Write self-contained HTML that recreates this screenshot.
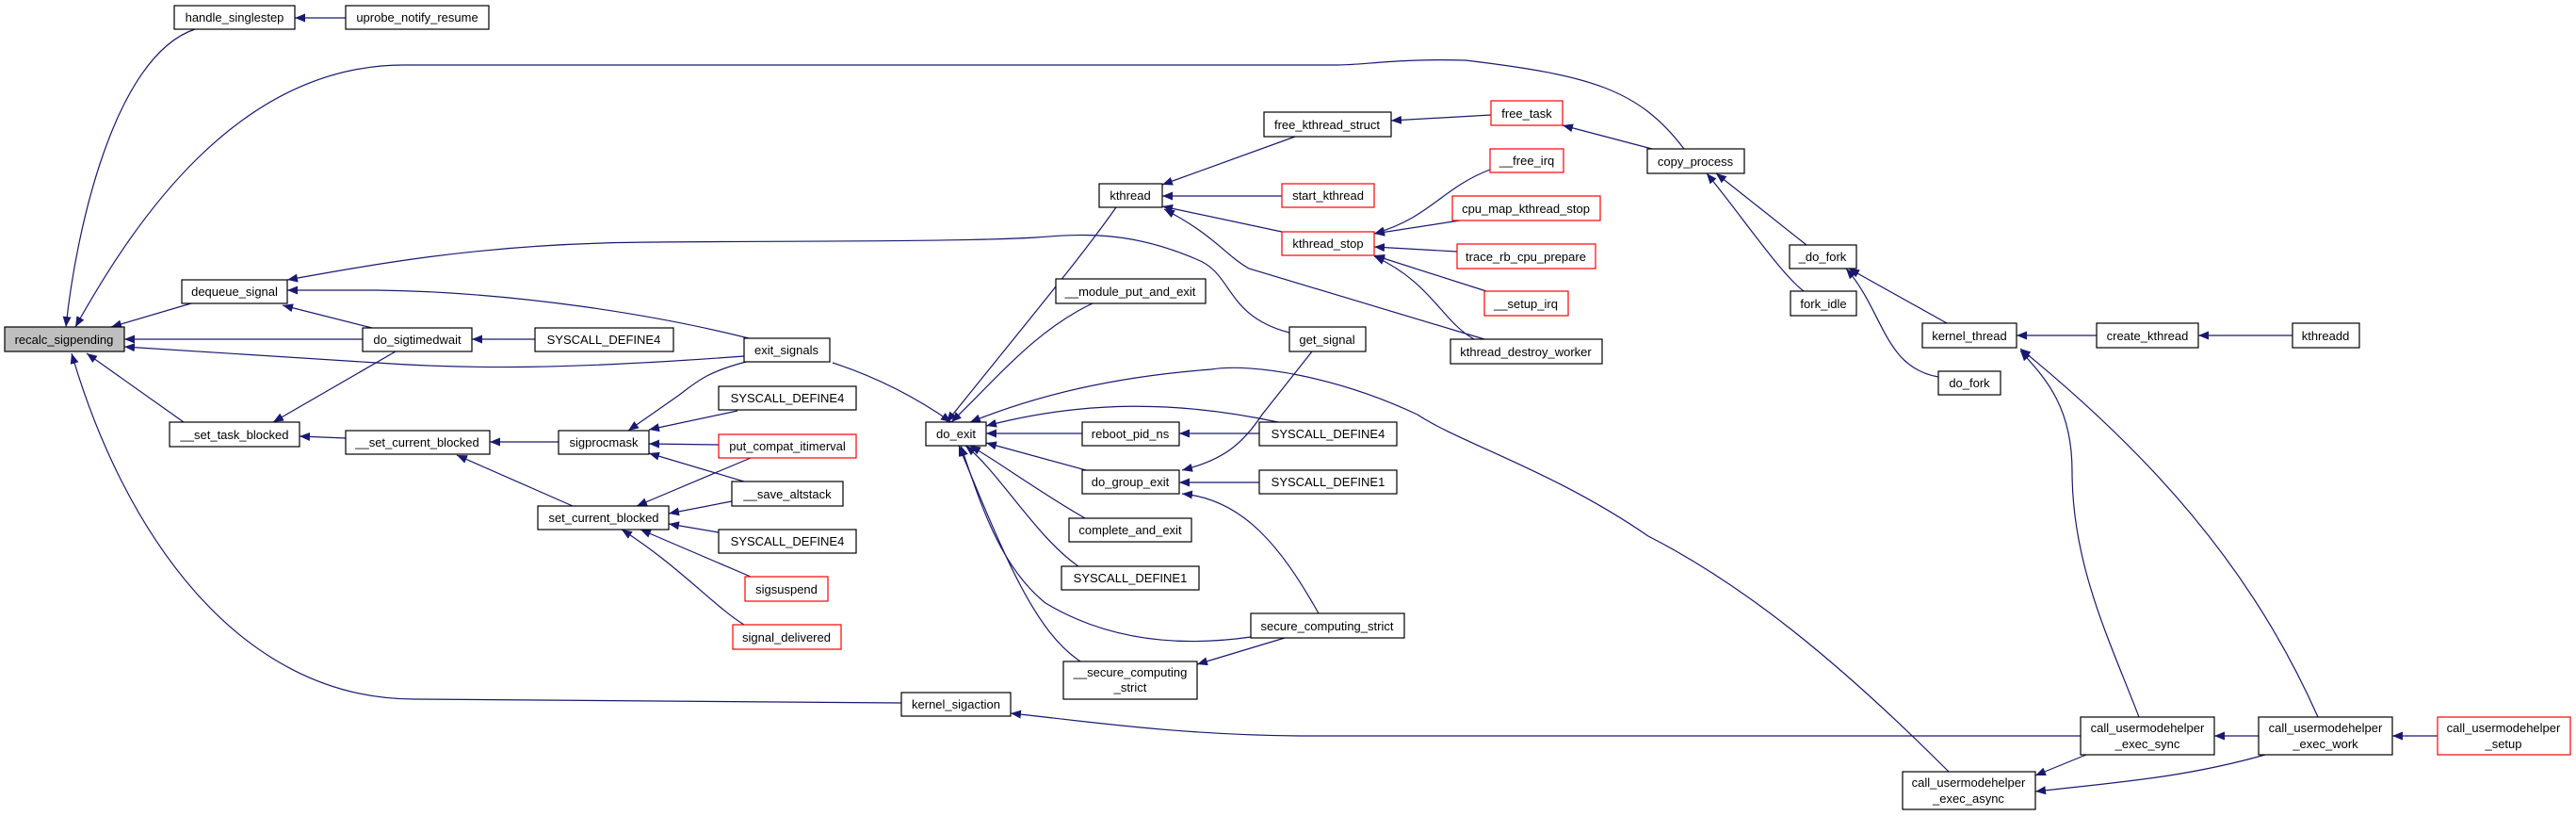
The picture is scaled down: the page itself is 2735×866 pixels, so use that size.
<!DOCTYPE html>
<html><head><meta charset="utf-8"><style>
html,body{margin:0;padding:0;background:#fff;}
svg{display:block;}
text{font-family:"Liberation Sans",Arial,sans-serif;font-size:13px;text-anchor:middle;fill:#000;}
.e{fill:none;stroke:#191970;stroke-width:1.2;}
.n{fill:#fff;stroke:#000;stroke-width:1.2;}
.r{fill:#fff;stroke:#ff0000;stroke-width:1.2;}
</style></head><body>
<svg width="2735" height="866" viewBox="0 0 2735 866" xmlns="http://www.w3.org/2000/svg">
<defs><marker id="a" markerUnits="userSpaceOnUse" markerWidth="12" markerHeight="10" refX="11" refY="4.5" orient="auto"><polygon points="0,0 11,4.5 0,9" fill="#191970"/></marker></defs>
<g class="e" marker-end="url(#a)">
<path d="M207,31 C120,60 80,250 70,347"/>
<path d="M1788,158 C1740,95 1690,80 1556,64 C1480,62 1450,69 1420,69 L429,69 C250,69 140,240 80,347"/>
<path d="M367,19 L313,19"/>
<path d="M203,322 L118,347"/>
<path d="M385,360 L132,360"/>
<path d="M790,378 C600,392 500,392 400,385 L132,368"/>
<path d="M195,448 L92,375"/>
<path d="M957,746 L440,742 C250,742 130,560 76,375"/>
<path d="M1369,353 C1300,335 1310,290 1270,275 C1200,245 1150,248 1100,252 C1000,258 700,255 640,258 C500,262 400,280 305,297"/>
<path d="M795,359 C700,335 550,310 400,308 L305,308"/>
<path d="M395,348 L300,324"/>
<path d="M568,360 L501,360"/>
<path d="M420,373 L290,448"/>
<path d="M367,465 L318,463"/>
<path d="M593,469 L520,469"/>
<path d="M608,537 L485,483"/>
<path d="M792,384 C750,395 740,405 720,420 L667,457"/>
<path d="M783,436 L689,456"/>
<path d="M763,472 L689,471"/>
<path d="M790,511 L689,481"/>
<path d="M797,486 L676,537"/>
<path d="M777,532 L710,545"/>
<path d="M763,565 L710,556"/>
<path d="M797,612 L680,562"/>
<path d="M790,663 C760,645 720,600 660,562"/>
<path d="M884,385 C930,400 970,420 1010,448"/>
<path d="M1185,220 C1150,270 1100,330 1005,448"/>
<path d="M1160,322 C1100,350 1060,400 1010,448"/>
<path d="M2069,819 C1950,700 1850,620 1750,569 C1650,500 1550,470 1505,440 C1420,400 1330,385 1286,392 C1180,400 1100,420 1030,448"/>
<path d="M1357,448 C1250,425 1150,425 1047,452"/>
<path d="M1149,460 L1047,460"/>
<path d="M1337,460 L1252,460"/>
<path d="M1153,499 L1047,470"/>
<path d="M1393,373 L1340,440 C1320,470 1300,488 1255,499"/>
<path d="M1337,512 L1252,512"/>
<path d="M1400,651 C1360,580 1320,530 1255,524"/>
<path d="M1152,550 C1100,520 1060,490 1030,473"/>
<path d="M1145,601 C1100,570 1060,500 1025,473"/>
<path d="M1328,676 C1230,690 1160,670 1110,640 C1060,600 1040,530 1020,473"/>
<path d="M1147,702 C1100,670 1070,600 1018,473"/>
<path d="M1364,677 L1271,705"/>
<path d="M1375,145 L1234,196"/>
<path d="M1361,208 L1234,208"/>
<path d="M1361,246 L1234,219"/>
<path d="M1576,360 L1326,285 C1300,270 1290,250 1236,222"/>
<path d="M1583,122 L1477,128"/>
<path d="M1754,158 L1659,133"/>
<path d="M1582,180 C1530,200 1520,230 1459,248"/>
<path d="M1550,234 L1459,248"/>
<path d="M1547,267 L1459,262"/>
<path d="M1578,309 L1459,271"/>
<path d="M1565,360 C1530,340 1520,300 1459,272"/>
<path d="M1918,260 L1822,184"/>
<path d="M1915,309 C1890,290 1850,230 1812,184"/>
<path d="M2067,343 L1963,285"/>
<path d="M2058,400 C2000,390 2000,330 1960,285"/>
<path d="M2226,356 L2141,356"/>
<path d="M2434,356 L2334,356"/>
<path d="M2271,761 C2240,680 2200,600 2200,500 C2200,430 2170,400 2145,372"/>
<path d="M2461,761 C2390,600 2280,480 2145,370"/>
<path d="M2399,781 L2351,781"/>
<path d="M2588,781 L2540,781"/>
<path d="M2215,801 L2161,823"/>
<path d="M2405,801 C2320,825 2250,830 2161,840"/>
<path d="M2209,781 L1380,781 C1250,780 1150,765 1073,757"/>
</g>
<g>
<rect x="5" y="347" width="127" height="26" fill="#bfbfbf" stroke="#000" stroke-width="1.2"/><text x="68" y="365">recalc_sigpending</text>
<rect class="n" x="185" y="6" width="128" height="25"/><text x="249" y="23">handle_singlestep</text>
<rect class="n" x="367" y="6" width="152" height="25"/><text x="443" y="23">uprobe_notify_resume</text>
<rect class="n" x="193" y="297" width="112" height="25"/><text x="249" y="314">dequeue_signal</text>
<rect class="n" x="385" y="348" width="116" height="25"/><text x="443" y="365">do_sigtimedwait</text>
<rect class="n" x="568" y="348" width="147" height="25"/><text x="641" y="365">SYSCALL_DEFINE4</text>
<rect class="n" x="790" y="359" width="91" height="25"/><text x="835" y="376">exit_signals</text>
<rect class="n" x="180" y="448" width="138" height="26"/><text x="249" y="466">__set_task_blocked</text>
<rect class="n" x="367" y="457" width="153" height="25"/><text x="443" y="474">__set_current_blocked</text>
<rect class="n" x="593" y="457" width="96" height="25"/><text x="641" y="474">sigprocmask</text>
<rect class="n" x="763" y="410" width="146" height="25"/><text x="836" y="427">SYSCALL_DEFINE4</text>
<rect class="r" x="763" y="461" width="146" height="25"/><text x="836" y="478">put_compat_itimerval</text>
<rect class="n" x="777" y="511" width="118" height="26"/><text x="836" y="529">__save_altstack</text>
<rect class="n" x="571" y="537" width="139" height="25"/><text x="641" y="554">set_current_blocked</text>
<rect class="n" x="763" y="562" width="146" height="25"/><text x="836" y="579">SYSCALL_DEFINE4</text>
<rect class="r" x="791" y="612" width="88" height="26"/><text x="835" y="630">sigsuspend</text>
<rect class="r" x="778" y="663" width="115" height="26"/><text x="835" y="681">signal_delivered</text>
<rect class="n" x="957" y="735" width="116" height="25"/><text x="1015" y="752">kernel_sigaction</text>
<rect class="n" x="983" y="448" width="64" height="25"/><text x="1015" y="465">do_exit</text>
<rect class="n" x="1167" y="195" width="67" height="25"/><text x="1200" y="212">kthread</text>
<rect class="n" x="1121" y="296" width="159" height="26"/><text x="1200" y="314">__module_put_and_exit</text>
<rect class="n" x="1149" y="448" width="103" height="25"/><text x="1200" y="465">reboot_pid_ns</text>
<rect class="n" x="1149" y="499" width="103" height="25"/><text x="1200" y="516">do_group_exit</text>
<rect class="n" x="1135" y="550" width="130" height="25"/><text x="1200" y="567">complete_and_exit</text>
<rect class="n" x="1127" y="601" width="146" height="25"/><text x="1200" y="618">SYSCALL_DEFINE1</text>
<rect class="n" x="1129" y="702" width="142" height="40"/><text x="1200" y="718">__secure_computing</text><text x="1200" y="734">_strict</text>
<rect class="n" x="1342" y="119" width="135" height="26"/><text x="1409" y="137">free_kthread_struct</text>
<rect class="r" x="1361" y="195" width="98" height="25"/><text x="1410" y="212">start_kthread</text>
<rect class="r" x="1361" y="246" width="98" height="25"/><text x="1410" y="263">kthread_stop</text>
<rect class="n" x="1369" y="347" width="81" height="26"/><text x="1409" y="365">get_signal</text>
<rect class="n" x="1337" y="448" width="146" height="25"/><text x="1410" y="465">SYSCALL_DEFINE4</text>
<rect class="n" x="1337" y="499" width="146" height="25"/><text x="1410" y="516">SYSCALL_DEFINE1</text>
<rect class="n" x="1328" y="651" width="163" height="26"/><text x="1409" y="669">secure_computing_strict</text>
<rect class="r" x="1583" y="107" width="76" height="26"/><text x="1621" y="125">free_task</text>
<rect class="r" x="1582" y="158" width="78" height="25"/><text x="1621" y="175">__free_irq</text>
<rect class="r" x="1542" y="208" width="157" height="26"/><text x="1620" y="226">cpu_map_kthread_stop</text>
<rect class="r" x="1547" y="259" width="147" height="26"/><text x="1620" y="277">trace_rb_cpu_prepare</text>
<rect class="r" x="1576" y="309" width="89" height="26"/><text x="1620" y="327">__setup_irq</text>
<rect class="n" x="1540" y="360" width="161" height="26"/><text x="1620" y="378">kthread_destroy_worker</text>
<rect class="n" x="1749" y="158" width="103" height="26"/><text x="1800" y="176">copy_process</text>
<rect class="n" x="1900" y="260" width="71" height="25"/><text x="1935" y="277">_do_fork</text>
<rect class="n" x="1901" y="309" width="70" height="26"/><text x="1936" y="327">fork_idle</text>
<rect class="n" x="2041" y="343" width="100" height="26"/><text x="2091" y="361">kernel_thread</text>
<rect class="n" x="2058" y="394" width="66" height="25"/><text x="2091" y="411">do_fork</text>
<rect class="n" x="2226" y="343" width="108" height="26"/><text x="2280" y="361">create_kthread</text>
<rect class="n" x="2434" y="343" width="71" height="26"/><text x="2469" y="361">kthreadd</text>
<rect class="n" x="2209" y="761" width="142" height="40"/><text x="2280" y="777">call_usermodehelper</text><text x="2280" y="794">_exec_sync</text>
<rect class="n" x="2398" y="761" width="142" height="40"/><text x="2469" y="777">call_usermodehelper</text><text x="2469" y="794">_exec_work</text>
<rect class="r" x="2588" y="761" width="141" height="40"/><text x="2658" y="777">call_usermodehelper</text><text x="2658" y="794">_setup</text>
<rect class="n" x="2020" y="819" width="141" height="40"/><text x="2090" y="835">call_usermodehelper</text><text x="2090" y="852">_exec_async</text>
</g>
</svg>
</body></html>
